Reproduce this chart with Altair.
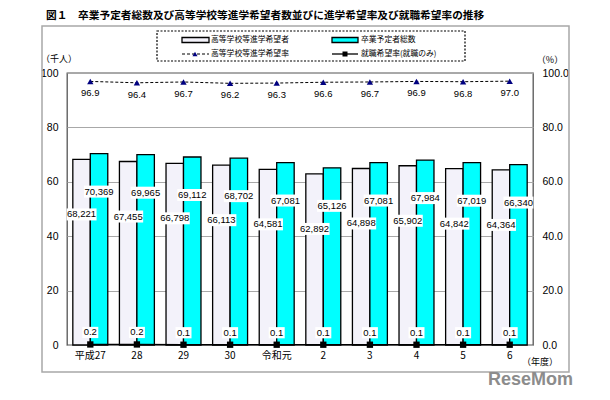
import altair as alt
import pandas as pd

categories = ["平成27", "28", "29", "30", "令和元", "2", "3", "4", "5", "6"]
hs_applicants = [68221, 67455, 66798, 66113, 64581, 62892, 64898, 65902, 64842, 64364]
total_grads = [70369, 69965, 69112, 68702, 67081, 65126, 67081, 67984, 67019, 66340]
hs_rate = [96.9, 96.4, 96.7, 96.2, 96.3, 96.6, 96.7, 96.9, 96.8, 97.0]
job_rate = [0.2, 0.2, 0.1, 0.1, 0.1, 0.1, 0.1, 0.1, 0.1, 0.1]
series_names = ["高等学校等進学希望者", "卒業予定者総数"]
rate_names = ["高等学校等進学希望率", "就職希望率(就職のみ)"]
title_text = "図１　卒業予定者総数及び高等学校等進学希望者数並びに進学希望率及び就職希望率の推移"

JP = "Noto Sans CJK JP"
NUM = "Liberation Sans"
HATCH = "#f3f2fa"
CYAN = "#00ffff"

bars = pd.DataFrame({
    "cat": categories * 2,
    "series": [series_names[0]] * len(categories) + [series_names[1]] * len(categories),
    "value": hs_applicants + total_grads,
})
bars["k"] = bars["value"] / 1000
bars["label"] = [f"{v:,}" for v in bars["value"]]

rates = pd.DataFrame({"cat": categories, "rate": hs_rate, "job": job_rate})
rates["rate_lbl"] = [f"{v:.1f}" for v in hs_rate]
rates["job_lbl"] = [f"{v:.1f}" for v in job_rate]

one = pd.DataFrame({"a": [0]})

xaxis = alt.Axis(title=None, labelAngle=0, ticks=False, domain=False, labelPadding=5,
                 labelFont=JP, labelFontSize=10, labelColor="black")
X = alt.X("cat:N", sort=categories, scale=alt.Scale(paddingInner=0.25, paddingOuter=0.125), axis=xaxis)
XO = alt.XOffset("series:N", sort=series_names)
yscale = alt.Scale(domain=[0, 100], nice=False, zero=True)

base_bars = alt.Chart(bars)
bar_layer = base_bars.mark_bar(stroke="black", strokeWidth=1.3).encode(
    x=X, xOffset=XO,
    y=alt.Y("k:Q", scale=yscale,
            axis=alt.Axis(title=None, values=[0, 20, 40, 60, 80, 100], format="d", ticks=False,
                          domain=False, grid=True, gridColor="#a8a8a8", labelPadding=9,
                          labelFont=NUM, labelFontSize=10.5, labelColor="black")),
    fill=alt.Fill("series:N", sort=series_names,
                  scale=alt.Scale(domain=series_names, range=[HATCH, CYAN]), legend=None),
)

BOX = "M-1,-0.4L1,-0.4L1,0.4L-1,0.4Z"
label_layers = []
for name, dy in [(series_names[0], 55), (series_names[1], 38)]:
    sub = base_bars.transform_filter(alt.datum.series == name)
    label_layers.append(sub.mark_point(shape=BOX, size=900, filled=True, fill="white",
                                       opacity=1, strokeWidth=0, yOffset=dy).encode(
        x=X, xOffset=XO, y=alt.Y("k:Q", scale=yscale, axis=None)))
    label_layers.append(sub.mark_text(dy=dy, font=NUM, fontSize=9.5, color="black",
                                      baseline="middle").encode(
        x=X, xOffset=XO, y=alt.Y("k:Q", scale=yscale, axis=None), text="label:N"))

base_r = alt.Chart(rates)
rate_line = base_r.mark_line(color="black", strokeWidth=1, strokeDash=[3, 2]).encode(
    x=X,
    y=alt.Y("rate:Q", scale=yscale,
            axis=alt.Axis(orient="right", title=None, values=[0, 20, 40, 60, 80, 100], format=".1f",
                          ticks=False, domain=False, grid=False, labelPadding=9,
                          labelFont=NUM, labelFontSize=10.5, labelColor="black")))
rate_pts = base_r.mark_point(shape="triangle-up", filled=True, color="#000080", size=40, opacity=1).encode(
    x=X, y=alt.Y("rate:Q", scale=yscale, axis=None))
rate_txt = base_r.mark_text(dy=12, font=NUM, fontSize=9.5, color="black").encode(
    x=X, y=alt.Y("rate:Q", scale=yscale, axis=None), text="rate_lbl:N")

job_line = base_r.mark_line(color="black", strokeWidth=1.5).encode(
    x=X, y=alt.Y("job:Q", scale=yscale, axis=None))
job_pts = base_r.mark_point(shape="square", filled=True, color="black", size=40, opacity=1).encode(
    x=X, y=alt.Y("job:Q", scale=yscale, axis=None))
job_box = base_r.mark_point(shape="M-1,-0.7L1,-0.7L1,0.7L-1,0.7Z", size=256, filled=True, fill="white",
                            opacity=1, strokeWidth=0, yOffset=-12).encode(
    x=X, y=alt.Y("job:Q", scale=yscale, axis=None))
job_txt = base_r.mark_text(dy=-12, font=NUM, fontSize=9.5, color="black", baseline="middle").encode(
    x=X, y=alt.Y("job:Q", scale=yscale, axis=None), text="job_lbl:N")

# decorations: frame, title, legend, unit labels
c1 = alt.Chart(one)
frame = c1.mark_rect(fill=None, stroke="#a8a8a8", strokeWidth=1.5).encode(
    x=alt.value(-25), x2=alt.value(502), y=alt.value(-47), y2=alt.value(299))
title = c1.mark_text(text=title_text, font=JP, fontSize=10.7, fontWeight="bold", align="left",
                     baseline="middle", color="black").encode(x=alt.value(-21), y=alt.value(-57))
unit_l = c1.mark_text(text="（千人）", font=JP, fontSize=9, baseline="middle", align="center").encode(
    x=alt.value(-8), y=alt.value(-14))
unit_r = c1.mark_text(text="（%）", font=JP, fontSize=9, baseline="middle", align="center").encode(
    x=alt.value(483), y=alt.value(-13))
unit_x = c1.mark_text(text="（年度）", font=JP, fontSize=9, baseline="middle", align="center").encode(
    x=alt.value(473), y=alt.value(289))
watermark = c1.mark_text(text="ReseMom", font=NUM, fontSize=18, fontWeight="bold", color="#8c8c8c",
                         align="left", baseline="middle").encode(x=alt.value(421), y=alt.value(307))

leg_box = c1.mark_rect(fill=None, stroke="black", strokeWidth=1.2, strokeDash=[2, 1.5]).encode(
    x=alt.value(90), x2=alt.value(398), y=alt.value(-42), y2=alt.value(-12))
leg_s1 = c1.mark_rect(fill=HATCH, stroke="black", strokeWidth=1.3).encode(
    x=alt.value(115), x2=alt.value(142), y=alt.value(-35.5), y2=alt.value(-30.5))
leg_s2 = c1.mark_rect(fill=CYAN, stroke="black", strokeWidth=1.3).encode(
    x=alt.value(265), x2=alt.value(291), y=alt.value(-35.5), y2=alt.value(-30.5))
leg_l1 = c1.mark_rule(color="black", strokeWidth=1, strokeDash=[3, 2]).encode(
    x=alt.value(115), x2=alt.value(142), y=alt.value(-19))
leg_p1 = c1.mark_point(shape="triangle-up", filled=True, color="#000080", size=25, opacity=1).encode(
    x=alt.value(128), y=alt.value(-19))
leg_l2 = c1.mark_rule(color="black", strokeWidth=1.3).encode(
    x=alt.value(265), x2=alt.value(291), y=alt.value(-19))
leg_p2 = c1.mark_point(shape="square", filled=True, color="black", size=25, opacity=1).encode(
    x=alt.value(278), y=alt.value(-19))
leg_texts = []
for txt, xx, yy in [(series_names[0], 144, -33), (series_names[1], 294, -33),
                    (rate_names[0], 144, -19), (rate_names[1], 294, -19)]:
    leg_texts.append(c1.mark_text(text=txt, font=JP, fontSize=7.8, align="left", baseline="middle",
                                  color="black").encode(x=alt.value(xx), y=alt.value(yy)))

chart = alt.layer(
    frame, bar_layer, *label_layers, rate_line, rate_pts, rate_txt,
    job_line, job_pts, job_box, job_txt,
    title, unit_l, unit_r, unit_x, watermark,
    leg_box, leg_s1, leg_s2, leg_l1, leg_p1, leg_l2, leg_p2, *leg_texts,
).resolve_axis(y="independent").properties(
    width=466, height=272,
    autosize=alt.AutoSizeParams(type="none"),
    padding={"left": 67, "top": 73, "right": 77, "bottom": 55},
    background="white",
).configure_view(stroke="#555555", strokeWidth=1.3)

chart.save("out.html", embed_options={"renderer": "svg", "actions": False})
